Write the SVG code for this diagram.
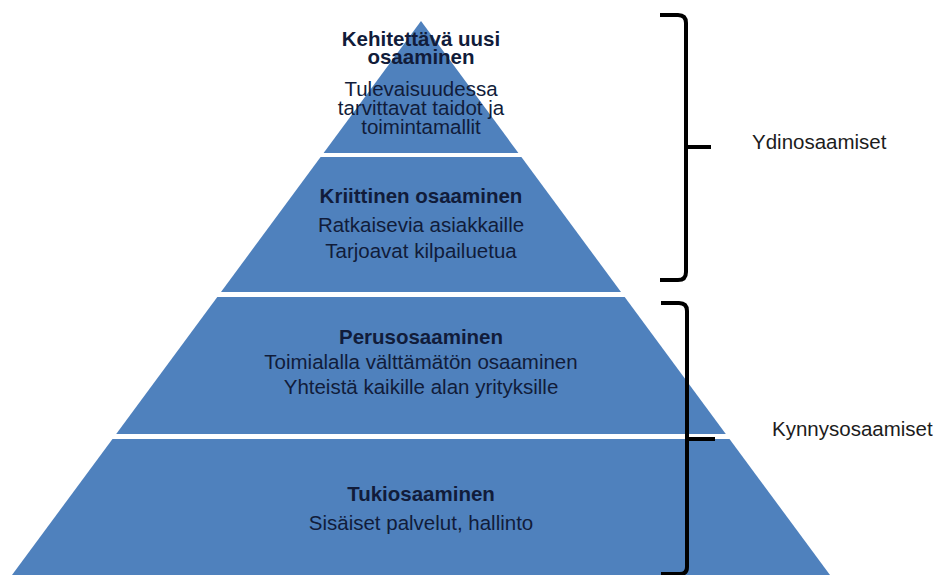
<svg xmlns="http://www.w3.org/2000/svg" width="938" height="575" viewBox="0 0 938 575">
  <style>
    .band { fill: #4f81bd; }
    .txt { font-family: "Liberation Sans", Arial, sans-serif; font-size: 20.5px; fill: #111c3a; text-anchor: middle; }
    .b { font-weight: bold; }
    .lbl { font-family: "Liberation Sans", Arial, sans-serif; font-size: 20.5px; fill: #1c1c1c; }
    .brace { fill: none; stroke: #000; stroke-width: 4; stroke-linecap: butt; stroke-linejoin: round; }
  </style>
  <rect width="938" height="575" fill="#ffffff"/>

  <!-- pyramid levels, top to bottom -->
  <g id="level-new">
    <polygon class="band" points="421,21 518.4,153 323.6,153"/>
    <text class="txt b" x="421" y="46">Kehitettävä uusi</text>
    <text class="txt b" x="421" y="64">osaaminen</text>
    <text class="txt" x="421" y="96">Tulevaisuudessa</text>
    <text class="txt" x="421" y="115">tarvittavat taidot ja</text>
    <text class="txt" x="421" y="134">toimintamallit</text>
  </g>

  <g id="level-critical">
    <polygon class="band" points="320.6,157 521.4,157 621,292 221,292"/>
    <text class="txt b" x="421" y="203">Kriittinen osaaminen</text>
    <text class="txt" x="421" y="232">Ratkaisevia asiakkaille</text>
    <text class="txt" x="421" y="258">Tarjoavat kilpailuetua</text>
  </g>

  <g id="level-basic">
    <polygon class="band" points="217.3,297 624.7,297 725.8,434 116.2,434"/>
    <text class="txt b" x="421" y="344">Perusosaaminen</text>
    <text class="txt" x="421" y="369">Toimialalla välttämätön osaaminen</text>
    <text class="txt" x="421" y="394">Yhteistä kaikille alan yrityksille</text>
  </g>

  <g id="level-support">
    <polygon class="band" points="112.5,439 729.5,439 830,575 12,575"/>
    <text class="txt b" x="421" y="501">Tukiosaaminen</text>
    <text class="txt" x="421" y="530">Sisäiset palvelut, hallinto</text>
  </g>

  <!-- brackets grouping the levels -->
  <g id="connectors">
    <path class="brace" d="M660,15 H678 Q686,15 686,23 V272 Q686,280 678,280 H660"/>
    <path class="brace" d="M686,147 H711"/>
    <path class="brace" d="M661,303 H679 Q687,303 687,311 V567 Q687,574 680,574 H661"/>
    <path class="brace" d="M687,439 H715"/>
  </g>

  <g id="label-core">
    <text class="lbl" x="752" y="149">Ydinosaamiset</text>
  </g>
  <g id="label-threshold">
    <text class="lbl" x="772" y="436">Kynnysosaamiset</text>
  </g>
</svg>
